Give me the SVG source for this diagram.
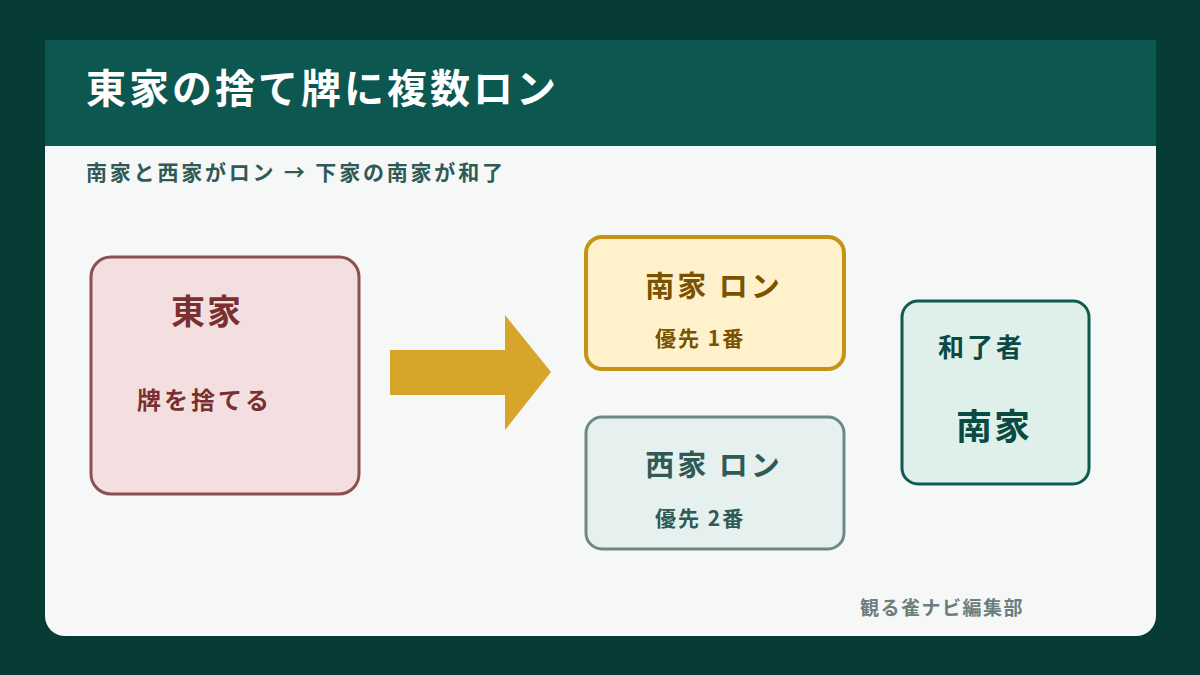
<svg xmlns="http://www.w3.org/2000/svg" width="1200" height="675" viewBox="0 0 1200 675">
<style>
text{font-family:"Noto Sans CJK JP","Noto Sans",sans-serif;font-weight:bold}
.box{stroke-width:3}
</style>
<rect width="1200" height="675" fill="#073b35"/>
<path d="M45 40H1156V616a20 20 0 0 1-20 20H65a20 20 0 0 1-20-20Z" fill="#f6f8f8"/>
<rect x="45" y="40" width="1111" height="106" fill="#0c5850"/>
<text x="86" y="103" font-size="40" letter-spacing="3" fill="#ffffff">東家の捨て牌に複数ロン</text>
<text x="86" y="180" font-size="21" letter-spacing="2.8" fill="#2f5a55">南家と西家がロン → 下家の南家が和了</text>
<g id="connectors">
<path d="M390 350H505V315L551 372L505 430V395H390Z" fill="#d6a52a"/>
</g>
<g id="east">
<rect class="box" x="91" y="257" width="268" height="237" rx="20" fill="#f4dfe0" stroke="#8e4f50"/>
<text x="207" y="324" font-size="34" letter-spacing="2" fill="#7a2f30" text-anchor="middle">東家</text>
<text x="137" y="409" font-size="24" letter-spacing="3" fill="#7a2f30">牌を捨てる</text>
</g>
<g id="south">
<rect x="586" y="237" width="258" height="132" rx="16" fill="#fff1cc" stroke="#c49414" stroke-width="4"/>
<text x="714" y="297" font-size="29" letter-spacing="3" fill="#7a5200" text-anchor="middle">南家 ロン</text>
<text x="655" y="346" font-size="21" letter-spacing="2" fill="#7a5200">優先 1番</text>
</g>
<g id="west">
<rect class="box" x="586" y="417" width="258" height="132" rx="16" fill="#e6f0ee" stroke="#6b8a86"/>
<text x="714" y="476" font-size="29" letter-spacing="3" fill="#2f5a55" text-anchor="middle">西家 ロン</text>
<text x="655" y="526" font-size="21" letter-spacing="2" fill="#2f5a55">優先 2番</text>
</g>
<g id="winner">
<rect class="box" x="902" y="301" width="187" height="183" rx="16" fill="#dff0eb" stroke="#0d5a4e"/>
<text x="938" y="357" font-size="26" letter-spacing="3" fill="#0a4a42">和了者</text>
<text x="994" y="440" font-size="36" letter-spacing="2" fill="#0a4a42" text-anchor="middle">南家</text>
</g>
<text x="860" y="615" font-size="19" letter-spacing="1.5" fill="#6b7f7d">観る雀ナビ編集部</text>
</svg>
